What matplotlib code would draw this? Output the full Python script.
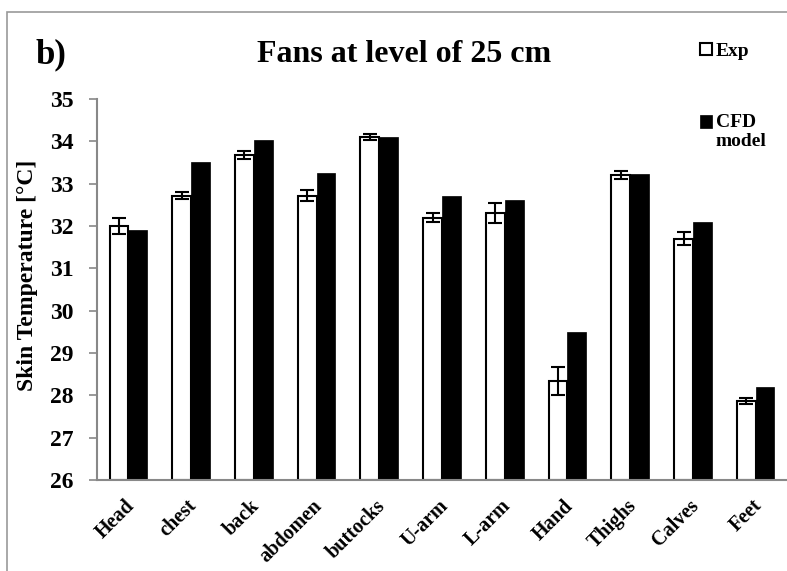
import matplotlib
matplotlib.use("Agg")
import matplotlib.pyplot as plt
import matplotlib.transforms as mtransforms
import numpy as np
from matplotlib.patches import Rectangle

categories = ["Head", "chest", "back", "abdomen", "buttocks", "U-arm", "L-arm",
              "Hand", "Thighs", "Calves", "Feet"]
exp_vals = [32.0, 32.72, 33.68, 32.72, 34.1, 32.2, 32.3, 28.33, 33.2, 31.7, 27.86]
exp_err = [0.18, 0.09, 0.09, 0.14, 0.08, 0.1, 0.24, 0.33, 0.1, 0.15, 0.07]
cfd_vals = [31.9, 33.52, 34.02, 33.25, 34.1, 32.72, 32.62, 29.5, 33.22, 32.1, 28.2]
yticks = [26, 27, 28, 29, 30, 31, 32, 33, 34, 35]

plt.rcParams['font.family'] = ['Liberation Serif', 'DejaVu Serif']
plt.rcParams['font.weight'] = 'bold'

W, H = 787, 571
fig = plt.figure(figsize=(W / 100, H / 100), dpi=100)
ax = fig.add_axes([97 / W, (H - 480) / H, 690 / W, (480 - 99) / H])

x = np.arange(len(categories))
w = 0.3
b1 = ax.bar(x - w / 2, [v - 26 for v in exp_vals], w, bottom=26, color='white',
            edgecolor='black', linewidth=1.5, label='Exp', zorder=2)
ax.errorbar(x - w / 2, exp_vals, yerr=exp_err, fmt='none', ecolor='black',
            elinewidth=1.5, capsize=5, capthick=1.5, zorder=3)
b2 = ax.bar(x + w / 2, [v - 26 for v in cfd_vals], w, bottom=26, color='black',
            edgecolor='black', linewidth=0.5, label='CFD\nmodel', zorder=2)

ax.set_xlim(-0.5, len(categories) - 0.5)
ax.set_ylim(26, 35)
ax.set_yticks(yticks)
ax.set_yticklabels([str(t) for t in yticks], fontsize=17, fontweight='bold')
ax.set_xticks(x)
ax.set_xticklabels(categories, rotation=45, ha='right', rotation_mode='anchor',
                   fontsize=14.5, fontweight='bold')
ax.tick_params(axis='x', length=0, pad=10)
ax.tick_params(axis='y', length=6, width=1.2, color='#888888', pad=11, direction='out')
shift = mtransforms.ScaledTranslation(-4 / 100, -2 / 100, fig.dpi_scale_trans)
for lab in ax.get_xticklabels():
    lab.set_transform(lab.get_transform() + shift)
for s in ['top', 'right']:
    ax.spines[s].set_visible(False)
for s in ['left', 'bottom']:
    ax.spines[s].set_color('#888888')
    ax.spines[s].set_linewidth(1.5)

ax.set_ylabel('Skin Temperature [°C]', fontsize=17, fontweight='bold')
ax.yaxis.set_label_coords((38 - 97) / 690, 0.538)

fig.text(257 / W, 1 - 62 / H, 'Fans at level of 25 cm', fontsize=23, fontweight='bold',
         ha='left', va='baseline')
fig.text(35 / W, 1 - 63 / H, 'b)', fontsize=25, fontweight='bold', ha='left', va='baseline')

leg = fig.legend(handles=[b1, b2], loc='upper left', bbox_to_anchor=(692 / W, 1 - 35 / H),
                 frameon=False, fontsize=14, handlelength=0.62, handleheight=0.62,
                 handletextpad=0.2, labelspacing=2.25, borderaxespad=0)
texts = leg.get_texts()
for t in texts:
    t.set_fontweight('bold')
# put the square next to the first line of the two-line label
texts[1].set_position((0, -10))

fig.patches.append(Rectangle((7 / W, -0.1), 1.2, 1 - 12 / H + 0.1, transform=fig.transFigure,
                             fill=False, edgecolor='#999999', linewidth=1.2))

fig.savefig('out.png', dpi=100)
